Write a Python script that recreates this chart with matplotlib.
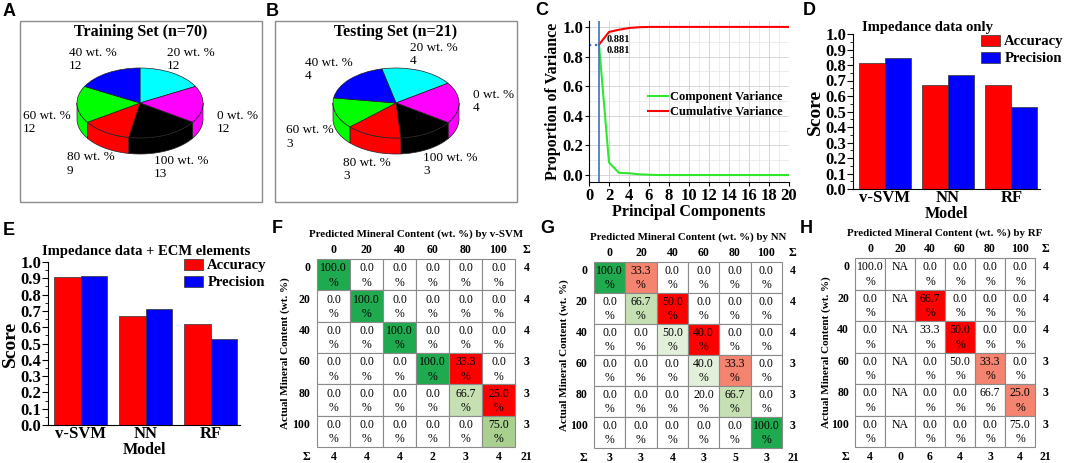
import matplotlib
matplotlib.use("Agg")
import matplotlib.pyplot as plt
import numpy as np
from matplotlib.patches import Rectangle
from matplotlib.ticker import MultipleLocator

plt.rcParams["font.family"] = ["Liberation Serif", "DejaVu Serif"]

W, H = 1065, 463

# ---------------- data ----------------
pie_labels = ["20 wt. %", "0 wt. %", "100 wt. %", "80 wt. %", "60 wt. %", "40 wt. %"]
train_counts = [12, 12, 13, 9, 12, 12]
test_counts = [4, 4, 3, 3, 3, 4]

pcs = np.arange(1, 21)
comp_var = [0.881, 0.085, 0.015, 0.012, 0.005, 0.002, 0.0, 0.0, 0.0, 0.0,
            0.0, 0.0, 0.0, 0.0, 0.0, 0.0, 0.0, 0.0, 0.0, 0.0]
cum_var = [0.881, 0.966, 0.981, 0.993, 0.998, 1.0, 1.0, 1.0, 1.0, 1.0,
           1.0, 1.0, 1.0, 1.0, 1.0, 1.0, 1.0, 1.0, 1.0, 1.0]

models = ["v-SVM", "NN", "RF"]
acc_imp = [0.81, 0.67, 0.67]
prec_imp = [0.845, 0.735, 0.53]
acc_ecm = [0.905, 0.667, 0.62]
prec_ecm = [0.915, 0.71, 0.53]

classes = ["0", "20", "40", "60", "80", "100"]
nan = np.nan
svm_cm = [[100.0, 0.0, 0.0, 0.0, 0.0, 0.0],
          [0.0, 100.0, 0.0, 0.0, 0.0, 0.0],
          [0.0, 0.0, 100.0, 0.0, 0.0, 0.0],
          [0.0, 0.0, 0.0, 100.0, 33.3, 0.0],
          [0.0, 0.0, 0.0, 0.0, 66.7, 25.0],
          [0.0, 0.0, 0.0, 0.0, 0.0, 75.0]]
svm_rows = [4, 4, 4, 3, 3, 3]
svm_cols = [4, 4, 4, 2, 3, 4]

nn_cm = [[100.0, 33.3, 0.0, 0.0, 0.0, 0.0],
         [0.0, 66.7, 50.0, 0.0, 0.0, 0.0],
         [0.0, 0.0, 50.0, 40.0, 0.0, 0.0],
         [0.0, 0.0, 0.0, 40.0, 33.3, 0.0],
         [0.0, 0.0, 0.0, 20.0, 66.7, 0.0],
         [0.0, 0.0, 0.0, 0.0, 0.0, 100.0]]
nn_rows = [4, 4, 4, 3, 3, 3]
nn_cols = [3, 3, 4, 3, 5, 3]

rf_cm = [[100.0, nan, 0.0, 0.0, 0.0, 0.0],
         [0.0, nan, 66.7, 0.0, 0.0, 0.0],
         [0.0, nan, 33.3, 50.0, 0.0, 0.0],
         [0.0, nan, 0.0, 50.0, 33.3, 0.0],
         [0.0, nan, 0.0, 0.0, 66.7, 25.0],
         [0.0, nan, 0.0, 0.0, 0.0, 75.0]]
rf_rows = [4, 4, 4, 3, 3, 3]
rf_cols = [4, 0, 6, 4, 3, 4]
n_test = 21

# cell shading (style)
svm_shade = ["D.....", ".D....", "..D...", "...DR.", "....LR", ".....M"]
nn_shade = ["DS....", ".LR...", "..VR..", "...VS.", "....L.", ".....D"]
rf_shade = ["......", "..R...", "...R..", "....S.", ".....S", "......"]
shade_colors = {"D": "#1faa4f", "M": "#a9d08e", "L": "#c6e0b4", "V": "#e2efda",
                "R": "#ff0000", "S": "#f4846f", ".": "white"}
pie_colors = ["#00ffff", "#ff00ff", "#000000", "#ff0000", "#00ff00", "#0000ff"]


def rect_px(x0, y0, x1, y1):
    return [x0 / W, 1 - y1 / H, (x1 - x0) / W, (y1 - y0) / H]


fig = plt.figure(figsize=(W / 100, H / 100), dpi=100)
canvas = fig.add_axes([0, 0, 1, 1], zorder=-1)
canvas.set_xlim(0, W)
canvas.set_ylim(H, 0)
canvas.axis("off")

bold = dict(fontweight="bold")
panel_font = dict(family="Liberation Sans", fontweight="bold", fontsize=13, va="top", ha="left")
for lab, (x, y) in zip("ABCDEFGH", [(3, 3), (266, 3), (535, 2), (803, 2),
                                    (3, 222), (272, 220), (540, 220), (800, 220)]):
    canvas.text(x, y, lab, **panel_font)


# ---------------- pies (A, B) ----------------
def pie3d(cx, cy, R, r, depth, counts, start):
    m = 0.05
    d = depth / r
    ax = fig.add_axes(rect_px(cx - R * (1 + m), cy - r * (1 + m),
                              cx + R * (1 + m), cy + r + depth + r * m))
    total = sum(counts)
    a = start
    for c, col in zip(counts, pie_colors):
        a2 = a - 360 * c / total
        lo, hi = max(a2, -180), min(a, 0)
        if lo < hi:
            t = np.radians(np.linspace(lo, hi, 80))
            xs = np.concatenate([np.cos(t), np.cos(t[::-1])])
            ys = np.concatenate([np.sin(t), np.sin(t[::-1]) - d])
            ax.fill(xs, ys, facecolor=col, edgecolor="#222222", lw=0.5)
        a = a2
    ax.pie(counts, colors=pie_colors, startangle=start, counterclock=False,
           wedgeprops=dict(edgecolor="#222222", linewidth=0.5))
    ax.set_aspect("auto")
    ax.set_xlim(-1 - m, 1 + m)
    ax.set_ylim(-1 - d - m, 1 + m)
    ax.axis("off")


canvas.add_patch(Rectangle((20, 21), 242, 181, fill=False, ec="#8c8c8c", lw=1))
canvas.add_patch(Rectangle((275, 21), 242, 181, fill=False, ec="#8c8c8c", lw=1))
canvas.text(141, 32, "Training Set (n=70)", ha="center", va="center", fontsize=11.5, **bold)
canvas.text(396, 32, "Testing Set (n=21)", ha="center", va="center", fontsize=11.5, **bold)
pie3d(140, 103, 63, 35, 16, train_counts, 90)
pie3d(396, 103, 63, 35, 16, test_counts, 103)

pos_a = [(167, 59.5), (217, 122.5), (154, 167.5), (67, 164), (23, 122.5), (69, 59.5)]
pos_b = [(410, 54.5), (473, 101.5), (423, 164.5), (343, 169.5), (286, 137), (305, 69.5)]
for lab, n, (x, y) in zip(pie_labels, train_counts, pos_a):
    canvas.text(x, y, f"{lab}\n{n}", ha="left", va="center", fontsize=9.5, linespacing=1.15)
for lab, n, (x, y) in zip(pie_labels, test_counts, pos_b):
    canvas.text(x, y, f"{lab}\n{n}", ha="left", va="center", fontsize=9.5, linespacing=1.15)

# ---------------- C: PCA variance ----------------
axc = fig.add_axes(rect_px(589, 21, 789, 182))
axc.plot(pcs, comp_var, color="#2ee82e", lw=1.5, label="Component Variance")
axc.plot(pcs, cum_var, color="#ff0000", lw=1.5, label="Cumulative Variance")
axc.axvline(1, color="#4472c4", lw=1.2)
axc.plot([0, 1], [cum_var[0], cum_var[0]], ls=":", color="#4472c4", lw=1.6)
axc.set_xlim(0, 20)
axc.set_ylim(-0.047, 1.04)
axc.xaxis.set_major_locator(MultipleLocator(2))
axc.xaxis.set_minor_locator(MultipleLocator(1))
axc.yaxis.set_major_locator(MultipleLocator(0.2))
axc.yaxis.set_minor_locator(MultipleLocator(0.1))
axc.yaxis.set_major_formatter(matplotlib.ticker.FormatStrFormatter("%.1f"))
axc.grid(which="major", color="#d0d0d0", lw=0.6)
axc.grid(which="minor", color="#e6e6e6", lw=0.5)
axc.set_axisbelow(True)
for s in ["top", "right"]:
    axc.spines[s].set_visible(False)
axc.tick_params(labelsize=12, length=3, pad=1)
axc.tick_params(which="minor", length=0)
for t in axc.get_xticklabels() + axc.get_yticklabels():
    t.set_fontweight("bold")
axc.set_xlabel("Principal Components", fontsize=11.5, labelpad=0, **bold)
axc.set_ylabel("Proportion of Variance", fontsize=11.5, labelpad=1, **bold)
axc.legend(loc="upper left", bbox_to_anchor=(648 / W, 1 - 91 / H), bbox_transform=fig.transFigure,
           frameon=False, borderpad=0, borderaxespad=0, handlelength=1.6, handletextpad=0.2,
           labelspacing=0.25, prop=dict(weight="bold", size=9))
axc.text(1.8, 0.915, f"{cum_var[0]:.3f}", ha="left", va="center", fontsize=7.5, **bold)
axc.text(1.8, 0.838, f"{comp_var[0]:.3f}", ha="left", va="center", fontsize=7.5, **bold)


# ---------------- D, E: bars ----------------
def bars(rect, acc, prec, title, title_xy, leg_xy):
    ax = fig.add_axes(rect)
    x = np.arange(len(models))
    w = 0.41
    ax.bar(x - w / 2, acc, w, color="#ff0000", edgecolor="#333333", lw=0.5, label="Accuracy")
    ax.bar(x + w / 2, prec, w, color="#0000ff", edgecolor="#333333", lw=0.5, label="Precision")
    ax.set_xlim(-0.5, 2.45)
    ax.set_ylim(0, 1.0)
    ax.yaxis.set_major_locator(MultipleLocator(0.1))
    ax.yaxis.set_minor_locator(MultipleLocator(0.05))
    ax.yaxis.set_major_formatter(matplotlib.ticker.FormatStrFormatter("%.1f"))
    ax.set_xticks(x, models)
    for s in ["top", "right"]:
        ax.spines[s].set_visible(False)
    ax.tick_params(axis="y", labelsize=12, length=4, pad=1)
    ax.tick_params(axis="y", which="minor", length=2)
    ax.tick_params(axis="x", labelsize=12, length=0, pad=1)
    for t in ax.get_xticklabels() + ax.get_yticklabels():
        t.set_fontweight("bold")
    ax.set_xlabel("Model", fontsize=11.5, labelpad=0, **bold)
    ax.set_ylabel("Score", fontsize=14, labelpad=1, **bold)
    canvas.text(title_xy[0], title_xy[1], title, ha="left", va="center", fontsize=10.5, **bold)
    ax.legend(loc="upper left", bbox_to_anchor=(leg_xy[0] / W, 1 - leg_xy[1] / H),
              bbox_transform=fig.transFigure, frameon=False, borderpad=0, borderaxespad=0,
              handlelength=1.3, handleheight=0.75, handletextpad=0.3, labelspacing=0.25,
              prop=dict(weight="bold", size=10.5))


bars(rect_px(853, 34, 1040, 189), acc_imp, prec_imp, "Impedance data only", (862, 28), (981, 35))
bars(rect_px(48, 262, 240, 425), acc_ecm, prec_ecm, "Impedance data + ECM elements", (42, 251), (184, 259))


# ---------------- F, G, H: confusion matrices ----------------
def conf(x0, y0, x1, y1, vals, shade, rows, cols, title):
    ax = fig.add_axes(rect_px(x0, y0, x1, y1))
    ax.set_xlim(0, 6)
    ax.set_ylim(6, 0)
    ax.axis("off")
    for i in range(6):
        for j in range(6):
            v = vals[i][j]
            ax.add_patch(Rectangle((j, i), 1, 1, facecolor=shade_colors[shade[i][j]],
                                   edgecolor="#8a8a8a", lw=0.8, clip_on=False))
            if np.isnan(v):
                ax.text(j + 0.5, i + 0.3, "NA", ha="center", va="center", fontsize=8.5, clip_on=False)
            else:
                ax.text(j + 0.5, i + 0.3, f"{v:.1f}", ha="center", va="center", fontsize=8.5, clip_on=False)
                ax.text(j + 0.5, i + 0.75, "%", ha="center", va="center", fontsize=8.5, clip_on=False)
    hk = dict(ha="center", va="center", fontsize=8.5, clip_on=False, **bold)
    for j, c in enumerate(classes):
        ax.text(j + 0.5, -0.3, c, **hk)
        ax.text(j + 0.5, 6.33, str(cols[j]), **hk)
    for i, c in enumerate(classes):
        ax.text(-0.2, i + 0.3, c, ha="right", va="center", fontsize=8.5, clip_on=False, **bold)
        ax.text(6.35, i + 0.3, str(rows[i]), **hk)
    ax.text(6.35, -0.3, "Σ", **hk)
    ax.text(-0.2, 6.33, "Σ", ha="right", va="center", fontsize=8.5, clip_on=False, **bold)
    ax.text(6.35, 6.33, str(n_test), **hk)
    ax.text(3.0, -0.8, title, ha="center", va="center", fontsize=7.8, clip_on=False, **bold)
    ax.text(-0.95, 3.0, "Actual Mineral Content (wt. %)", rotation=90, ha="center", va="center",
            fontsize=8, clip_on=False, **bold)


conf(317, 259, 515, 447, svm_cm, svm_shade, svm_rows, svm_cols,
     "Predicted Mineral Content (wt. %) by v-SVM")
conf(594, 262, 782, 448, nn_cm, nn_shade, nn_rows, nn_cols,
     "Predicted Mineral Content (wt. %) by NN")
conf(855, 258, 1035, 447, rf_cm, rf_shade, rf_rows, rf_cols,
     "Predicted Mineral Content (wt. %) by RF")

fig.savefig("out.png", dpi=100)
